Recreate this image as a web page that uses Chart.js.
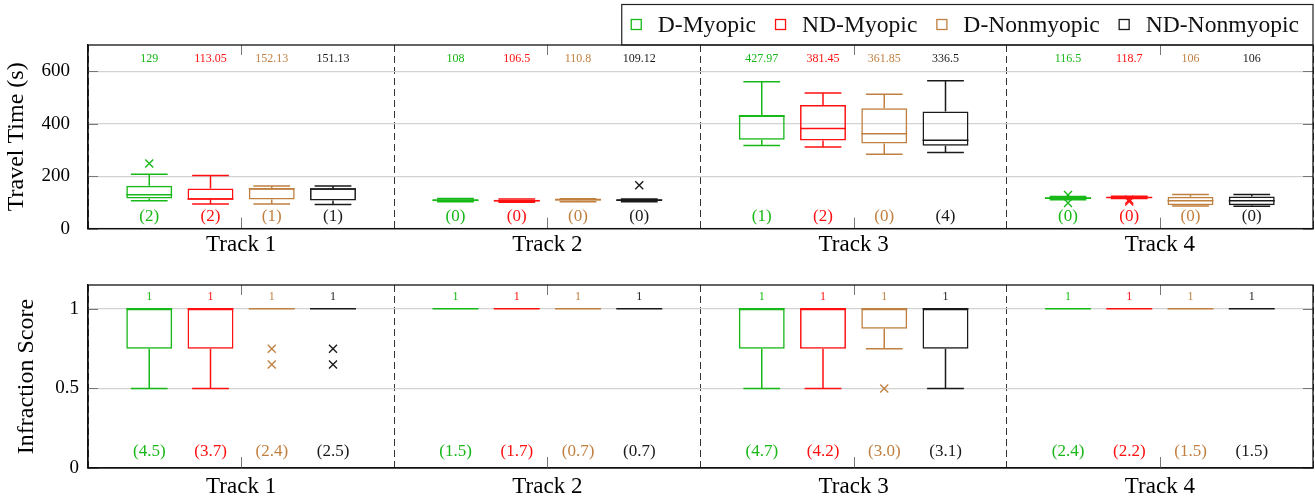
<!DOCTYPE html>
<html>
<head>
<meta charset="utf-8">
<script src="https://cdn.jsdelivr.net/npm/chart.js@4.4.1/dist/chart.umd.min.js"></script>
<style>
  body { margin: 0; background: #fff; }
  canvas { display: block; }
</style>
</head>
<body>
<canvas id="travelChart" width="1315" height="258"></canvas>
<canvas id="scoreChart" width="1315" height="244"></canvas>
<script>
const tracks = ["Track 1", "Track 2", "Track 3", "Track 4"];
const series = ["D-Myopic", "ND-Myopic", "D-Nonmyopic", "ND-Nonmyopic"];
const colors = ["#17b817", "#ff1010", "#c08040", "#1a1a1a"];

// Travel time boxes: one row per series, one value per track
const travelLow    = [[106, 102, 317, 110], [94, 100, 311, 115], [94, 102, 283, 86], [92, 102, 290, 85]];
const travelQ1     = [[115, 104, 339, 113], [110, 103, 336, 116.5], [111, 106, 324, 89], [107, 105, 316, 89]];
const travelMedian = [[129, 108, 427.97, 116.5], [113.05, 106.5, 381.45, 118.7], [152.13, 110.8, 361.85, 106], [151.13, 109.12, 336.5, 106]];
const travelQ3     = [[163, 112, 433, 119], [153, 110, 471, 120.5], [154, 113, 459, 121], [154, 111, 446, 122]];
const travelHigh   = [[207, 115, 560, 122], [202, 113, 517, 123], [162, 114, 512, 130], [162, 113, 564, 130]];
const travelOutliers = [[[248], [], [], [128, 98]], [[], [], [], [110, 103]], [[], [], [], []], [[], [165], [], []]];
const travelCounts = [[2, 0, 1, 0], [2, 0, 2, 0], [1, 0, 0, 0], [1, 0, 4, 0]];
const travelTicks = [0, 200, 400, 600];

// Infraction score boxes
const scoreLow    = [[0.5, 1, 0.5, 1], [0.5, 1, 0.5, 1], [1, 1, 0.75, 1], [1, 1, 0.5, 1]];
const scoreQ1     = [[0.75, 1, 0.75, 1], [0.75, 1, 0.75, 1], [1, 1, 0.875, 1], [1, 1, 0.75, 1]];
const scoreMedian = [[1, 1, 1, 1], [1, 1, 1, 1], [1, 1, 1, 1], [1, 1, 1, 1]];
const scoreQ3     = [[1, 1, 1, 1], [1, 1, 1, 1], [1, 1, 1, 1], [1, 1, 1, 1]];
const scoreHigh   = [[1, 1, 1, 1], [1, 1, 1, 1], [1, 1, 1, 1], [1, 1, 1, 1]];
const scoreOutliers = [[[], [], [], []], [[], [], [], []], [[0.75, 0.65], [], [0.5], []], [[0.75, 0.65], [], [], []]];
const scoreCounts = [[4.5, 1.5, 4.7, 2.4], [3.7, 1.7, 4.2, 2.2], [2.4, 0.7, 3.0, 1.5], [2.5, 0.7, 3.1, 1.5]];
const scoreTicks = [0, 0.5, 1];

const FONT = "'Liberation Serif', 'DejaVu Serif', serif";

// whiskers, medians, outliers and the small labels on top of the floating bars
const boxPlot = {
    id: "boxPlot",
    afterDatasetsDraw(chart, args, o) {
        const ctx = chart.ctx;
        const y = chart.scales.y;
        const area = chart.chartArea;
        chart.data.datasets.forEach((ds, d) => {
            chart.getDatasetMeta(d).data.forEach((bar, i) => {
                const x = bar.x, half = bar.width / 2, cap = bar.width * 0.4;
                const py = v => y.getPixelForValue(v);
                ctx.save();
                ctx.strokeStyle = colors[d];
                ctx.lineWidth = 1.5;
                ctx.beginPath();
                ctx.moveTo(x - half, py(o.median[d][i]));
                ctx.lineTo(x + half, py(o.median[d][i]));
                ctx.moveTo(x, py(o.q3[d][i]));
                ctx.lineTo(x, py(o.high[d][i]));
                ctx.moveTo(x - cap, py(o.high[d][i]));
                ctx.lineTo(x + cap, py(o.high[d][i]));
                ctx.moveTo(x, py(o.q1[d][i]));
                ctx.lineTo(x, py(o.low[d][i]));
                ctx.moveTo(x - cap, py(o.low[d][i]));
                ctx.lineTo(x + cap, py(o.low[d][i]));
                ctx.stroke();
                // outliers as crosses
                ctx.lineWidth = 1.4;
                o.outliers[d][i].forEach(v => {
                    const oy = py(v);
                    ctx.beginPath();
                    ctx.moveTo(x - 4, oy - 4); ctx.lineTo(x + 4, oy + 4);
                    ctx.moveTo(x + 4, oy - 4); ctx.lineTo(x - 4, oy + 4);
                    ctx.stroke();
                });
                ctx.fillStyle = colors[d];
                ctx.textAlign = "center";
                ctx.textBaseline = "middle";
                ctx.font = "12px " + FONT;
                ctx.fillText(String(o.median[d][i]), x, area.top + o.topGap);
                ctx.font = "17px " + FONT;
                ctx.fillText("(" + o.countText(o.counts[d][i]) + ")", x, area.bottom - o.bottomGap);
                ctx.restore();
            });
        });
    },
    afterDraw(chart) {
        const ctx = chart.ctx;
        const a = chart.chartArea;
        ctx.save();
        // inner ticks
        ctx.strokeStyle = "#777";
        ctx.lineWidth = 1;
        ctx.beginPath();
        chart.scales.x.ticks.forEach((t, i) => {
            const px = Math.round(chart.scales.x.getPixelForTick(i)) + 0.5;
            ctx.moveTo(px, a.bottom); ctx.lineTo(px, a.bottom - 11);
            ctx.moveTo(px, a.top); ctx.lineTo(px, a.top + 10);
        });
        chart.scales.y.ticks.forEach((t, i) => {
            const py = Math.round(chart.scales.y.getPixelForTick(i)) + 0.5;
            ctx.moveTo(a.left, py); ctx.lineTo(a.left + 10, py);
            ctx.moveTo(a.right, py); ctx.lineTo(a.right - 10, py);
        });
        ctx.stroke();
        // frame
        ctx.strokeStyle = "#111";
        ctx.lineWidth = 1.3;
        ctx.strokeRect(a.left, a.top, a.right - a.left, a.bottom - a.top);
        ctx.restore();
    }
};

// framed legend with open squares, right aligned above the plot
const boxLegend = {
    id: "boxLegend",
    afterDraw(chart, args, o) {
        if (!o.show) return;
        const ctx = chart.ctx;
        const a = chart.chartArea;
        ctx.save();
        ctx.font = "23.6px " + FONT;
        const widths = chart.data.datasets.map(ds => ctx.measureText(ds.label).width);
        const total = widths.reduce((s, w) => s + w + 27, 0) + 19 * (widths.length - 1);
        let x = a.right - 14 - total;
        const cy = 24.5;
        ctx.strokeStyle = "#222";
        ctx.lineWidth = 1.2;
        ctx.strokeRect(x - 9, 4.5, a.right - (x - 9), a.top - 4.5);
        ctx.textBaseline = "middle";
        chart.data.datasets.forEach((ds, d) => {
            ctx.strokeStyle = ds.borderColor;
            ctx.lineWidth = 1.3;
            ctx.strokeRect(x + 0.5, cy - 5, 10, 10);
            ctx.fillStyle = "#111";
            ctx.fillText(ds.label, x + 27, cy + 1);
            x += 27 + widths[d] + 19;
        });
        ctx.restore();
    }
};

function boxDatasets(q1, q3) {
    return series.map((name, d) => ({
        label: name,
        data: tracks.map((t, i) => [q1[d][i], q3[d][i]]),
        backgroundColor: "rgba(255,255,255,0)",
        borderColor: colors[d],
        borderWidth: 1.5,
        borderSkipped: false,
        categoryPercentage: 0.8,
        barPercentage: 0.75
    }));
}

function makeChart(id, cfg) {
    return new Chart(document.getElementById(id), {
        type: "bar",
        data: { labels: tracks, datasets: boxDatasets(cfg.q1, cfg.q3) },
        plugins: [boxPlot, boxLegend],
        options: {
            responsive: false,
            animation: false,
            layout: { padding: { top: cfg.padTop, right: 2, left: 0, bottom: 0 } },
            plugins: {
                legend: { display: false },
                tooltip: { enabled: false },
                boxPlot: cfg.box,
                boxLegend: { show: cfg.legend }
            },
            scales: {
                x: {
                    grid: { offset: true, color: "#333", lineWidth: 1, drawTicks: false },
                    border: { dash: [7, 4], color: "#111", width: 1.3 },
                    ticks: { color: "#000", font: { family: FONT, size: 23 }, padding: cfg.xPad },
                    afterFit: s => { s.height = cfg.xHeight; }
                },
                y: {
                    min: 0,
                    max: cfg.max,
                    afterBuildTicks: s => { s.ticks = cfg.ticks.map(v => ({ value: v })); },
                    grid: { color: "#d2d2d2", lineWidth: 1.2, drawTicks: false },
                    border: { color: "#111", width: 1.3 },
                    ticks: { color: "#000", font: { family: FONT, size: 19 }, padding: cfg.yPad, callback: v => String(v) },
                    title: { display: true, text: cfg.title, color: "#000", font: { family: FONT, size: 24 }, padding: { top: cfg.titlePad, bottom: 0 } },
                    afterFit: s => { s.width = 88; }
                }
            }
        }
    });
}

makeChart("travelChart", {
    q1: travelQ1, q3: travelQ3, max: 700, ticks: travelTicks,
    title: "Travel Time (s)", titlePad: 2, yPad: 18, xPad: 3, xHeight: 29, padTop: 45, legend: true,
    box: {
        low: travelLow, q1: travelQ1, median: travelMedian, q3: travelQ3, high: travelHigh,
        outliers: travelOutliers, counts: travelCounts, countText: v => String(v),
        topGap: 14, bottomGap: 12
    }
});

makeChart("scoreChart", {
    q1: scoreQ1, q3: scoreQ3, max: 1.15, ticks: scoreTicks,
    title: "Infraction Score", titlePad: 12, yPad: 9, xPad: 5, xHeight: 34, padTop: 27, legend: false,
    box: {
        low: scoreLow, q1: scoreQ1, median: scoreMedian, q3: scoreQ3, high: scoreHigh,
        outliers: scoreOutliers, counts: scoreCounts, countText: v => v.toFixed(1),
        topGap: 12, bottomGap: 16
    }
});
</script>
</body>
</html>
